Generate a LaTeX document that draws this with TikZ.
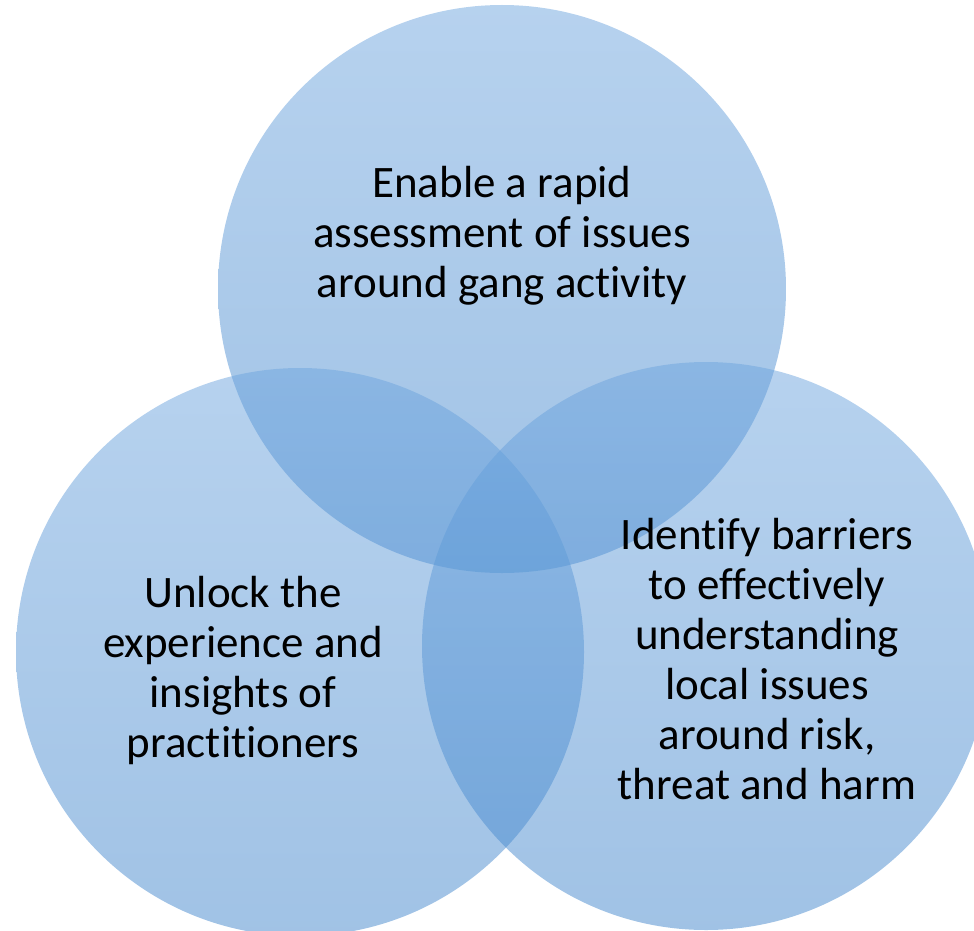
\documentclass[tikz,border=0pt]{standalone}
\usepackage{fontspec}
\setmainfont{Carlito}[Ligatures=NoCommon]
\begin{document}
\begin{tikzpicture}[x=1pt,y=-1pt,
  venn/.style={top color=topc, bottom color=botc, fill opacity=0.5, draw=none},
  lbl/.style={align=center, inner sep=0pt, text=black, font=\fontsize{45}{50}\selectfont}]
\definecolor{topc}{RGB}{110,165,222}
\definecolor{botc}{RGB}{66,134,204}
\useasboundingbox (0,0) rectangle (974,931);
\begin{scope}
\clip (0,0) rectangle (974,931);
\shade[venn] (502,289) circle[radius=284];
\shade[venn] (300,652) circle[radius=284];
\shade[venn] (706,646) circle[radius=284];
\end{scope}
\node[lbl] (top) at (502,235.5) {Enable a rapid\\assessment of issues\\around gang activity};
\node[lbl] (left) at (243,670.5) {Unlock the\\experience and\\insights of\\practitioners};
\node[lbl] (right) at (767,659) {Identify barriers\\to effectively\\understanding\\local issues\\around risk,\\threat and harm};
\end{tikzpicture}
\end{document}
